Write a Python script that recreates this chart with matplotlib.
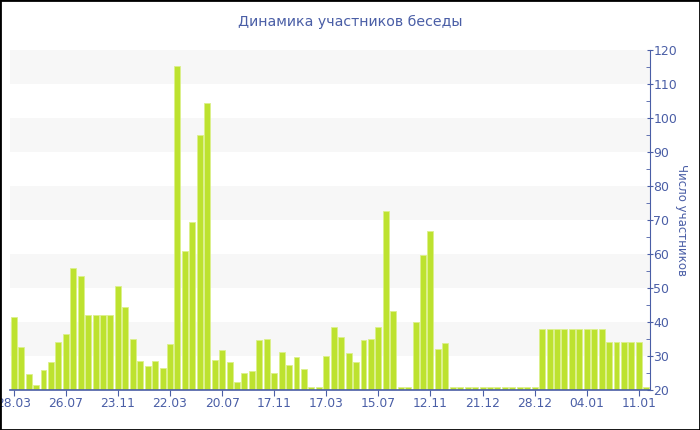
import matplotlib
matplotlib.use("Agg")
import matplotlib.pyplot as plt
from matplotlib.patches import Rectangle
from matplotlib.ticker import MultipleLocator

# participants per period
values = [41.6, 32.6, 24.6, 21.5, 26.0, 28.3, 34.0, 36.6, 56.0, 53.5,
          42.0, 42.0, 42.0, 42.0, 50.5, 44.5, 35.1, 28.6, 27.0, 28.4,
          26.4, 33.6, 115.2, 60.8, 69.4, 94.9, 104.4, 28.8, 31.7, 28.3,
          22.4, 24.9, 25.6, 34.8, 35.0, 24.9, 31.2, 27.4, 29.8, 26.3,
          21.0, 21.0, 30.0, 38.4, 35.6, 30.8, 28.1, 34.7, 34.9, 38.5,
          72.6, 43.1, 21.0, 21.0, 40.1, 59.7, 66.9, 32.0, 33.8, 21.0,
          21.0, 21.0, 21.0, 21.0, 21.0, 21.0, 21.0, 21.0, 21.0, 21.0,
          21.0, 38.0, 38.0, 38.0, 38.0, 38.0, 38.0, 38.0, 38.0, 38.0,
          34.0, 34.0, 34.0, 34.0, 34.0, 21.0]
tick_labels = ["28.03", "26.07", "23.11", "22.03", "20.07", "17.11", "17.03",
               "15.07", "12.11", "21.12", "28.12", "04.01", "11.01"]
tick_pos = [i * 7 for i in range(len(tick_labels))]

blue = "#4a5ea6"
bar_col = "#bde22f"

fig = plt.figure(figsize=(7, 4.3), dpi=100)
ax = fig.add_axes([10/700, 40/430, 640/700, 340/430])

# alternating light bands
for lo in range(30, 120, 20):
    ax.axhspan(lo, lo + 10, color="#f7f7f7", zorder=0, lw=0)

x = list(range(len(values)))
base = 20
ax.bar(x, [v - base for v in values], bottom=base, width=0.8,
       color=bar_col, edgecolor="#dcf08c", linewidth=0.6, zorder=2)

ax.set_xlim(-0.5, len(values) - 0.5)
ax.set_ylim(20, 120)

ax.yaxis.tick_right()
ax.yaxis.set_label_position("right")
ax.yaxis.set_major_locator(MultipleLocator(10))
ax.yaxis.set_minor_locator(MultipleLocator(5))
ax.tick_params(axis="y", which="major", colors=blue, labelsize=9, length=5,
               direction="inout", pad=0)
ax.tick_params(axis="y", which="minor", colors=blue, length=3, direction="in")
ax.set_ylabel("Число участников", color=blue, fontsize=8.5, rotation=-90, labelpad=8)

ax.set_xticks(tick_pos)
ax.set_xticklabels(tick_labels)
ax.tick_params(axis="x", colors=blue, labelsize=8.8, length=4, pad=1)
for lab in ax.get_xticklabels():
    lab.set_clip_on(False)

for s in ["top", "left"]:
    ax.spines[s].set_visible(False)
ax.spines["right"].set_color(blue)
ax.spines["bottom"].set_color(blue)
ax.spines["bottom"].set_linewidth(1.2)

fig.text(350/700, 1 - 22/430, "Динамика участников беседы", ha="center", va="center",
         color=blue, fontsize=10.2)

fig.patches.append(Rectangle((0, 0), 1, 1, transform=fig.transFigure, fill=False,
                             edgecolor="black", linewidth=2))

fig.savefig("out.png", dpi=100)
